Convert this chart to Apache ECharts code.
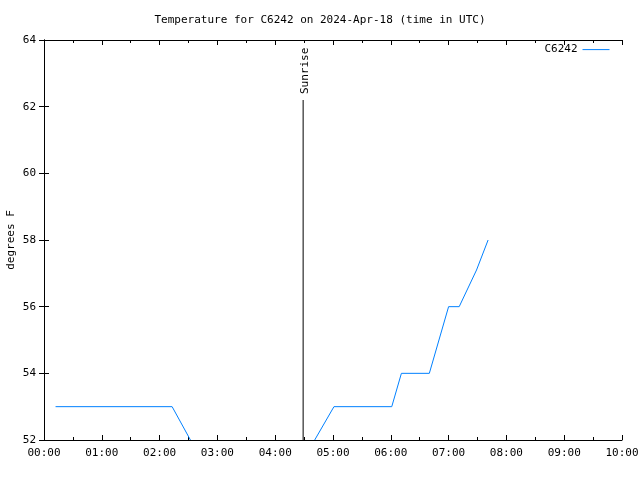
<!DOCTYPE html>
<html><head><meta charset="utf-8">
<script src="https://cdn.jsdelivr.net/npm/echarts@6/dist/echarts.min.js"></script>
<style>html,body{margin:0;padding:0;background:#fff}#c{width:640px;height:480px}</style>
</head><body><div id="c"></div>
<script>
// times in minutes after 00:00 UTC
const times1 = [12, 133, 152];
const temps1 = [53, 53, 52];
const times2 = [281, 301, 361, 371, 400, 420, 431, 449, 461];
const temps2 = [52, 53, 53, 54, 54, 56, 56, 57.1, 58];
const sunriseTime = 269;
const sunriseTop = 62.2;
const seriesName = 'C6242';
const titleText = 'Temperature for C6242 on 2024-Apr-18 (time in UTC)';

const data = [];
times1.forEach((t, i) => data.push([t, temps1[i]]));
data.push([null, null]);
times2.forEach((t, i) => data.push([t, temps2[i]]));

const font = 'DejaVu Sans Mono';
const lineColor = '#0080ff';
const fmt = v => { const h = Math.floor(v / 60), m = v % 60; return String(h).padStart(2, '0') + ':' + String(m).padStart(2, '0'); };
const chart = echarts.init(document.getElementById('c'));
const axisLine = { show: true, lineStyle: { color: '#000', width: 1 } };
chart.setOption({
  animation: false,
  textStyle: { fontFamily: font, color: '#000' },
  title: { text: titleText, left: 'center', top: 10, textStyle: { fontFamily: font, fontSize: 11, fontWeight: 'normal', color: '#000' } },
  legend: { show: true, data: [seriesName], right: 25, top: 39, align: 'right', itemWidth: 27, itemHeight: 14, itemGap: 8,
    itemStyle: { opacity: 0 }, lineStyle: { width: 1, color: lineColor },
    textStyle: { fontFamily: font, fontSize: 11, color: '#000' } },
  grid: { left: 44, right: 18, top: 40, bottom: 40, containLabel: false, outerBoundsMode: 'none' },
  xAxis: [
    { type: 'value', min: 0, max: 600, interval: 60, axisLine,
      axisTick: { inside: true, length: 5, lineStyle: { color: '#000' } },
      minorTick: { show: true, splitNumber: 2, length: 3, lineStyle: { color: '#000' } },
      axisLabel: { formatter: fmt, fontFamily: font, fontSize: 11, color: '#000', margin: 8 },
      splitLine: { show: false } },
    { type: 'value', position: 'top', min: 0, max: 600, interval: 60, axisLine,
      axisTick: { inside: true, length: 5, lineStyle: { color: '#000' } },
      minorTick: { show: true, splitNumber: 2, length: 3, lineStyle: { color: '#000' } },
      axisLabel: { show: false }, splitLine: { show: false } }
  ],
  yAxis: [
    { type: 'value', min: 52, max: 64, interval: 2, axisLine,
      axisTick: { inside: true, length: 5, lineStyle: { color: '#000' } },
      axisLabel: { fontFamily: font, fontSize: 11, color: '#000', margin: 8 },
      splitLine: { show: false },
      name: 'degrees F', nameLocation: 'middle', nameGap: 27, nameRotate: 90, nameMoveOverlap: false,
      nameTextStyle: { fontFamily: font, fontSize: 11, color: '#000' } },
    { type: 'value', position: 'right', min: 52, max: 64, interval: 2, axisLine,
      axisTick: { inside: true, length: 5, lineStyle: { color: '#000' } },
      axisLabel: { show: false }, splitLine: { show: false } }
  ],
  series: [
    { name: seriesName, type: 'line', data: data, showSymbol: false, symbol: 'none', connectNulls: false,
      lineStyle: { color: lineColor, width: 1 }, itemStyle: { color: lineColor }, clip: true },
    { name: 'Sunrise', type: 'line', data: [[sunriseTime, 52], [sunriseTime, sunriseTop]], showSymbol: false,
      symbol: 'none', lineStyle: { color: '#000', width: 1 }, itemStyle: { color: '#000' } }
  ]
});
const p = chart.convertToPixel({ xAxisIndex: 0, yAxisIndex: 0 }, [sunriseTime, sunriseTop]);
chart.setOption({
  graphic: [{ type: 'text', x: p[0] + 2, y: p[1] - 6, rotation: Math.PI / 2,
    style: { text: 'Sunrise', fontFamily: font, fontSize: 11, fill: '#000', align: 'left', verticalAlign: 'middle' } }]
});
</script></body></html>
